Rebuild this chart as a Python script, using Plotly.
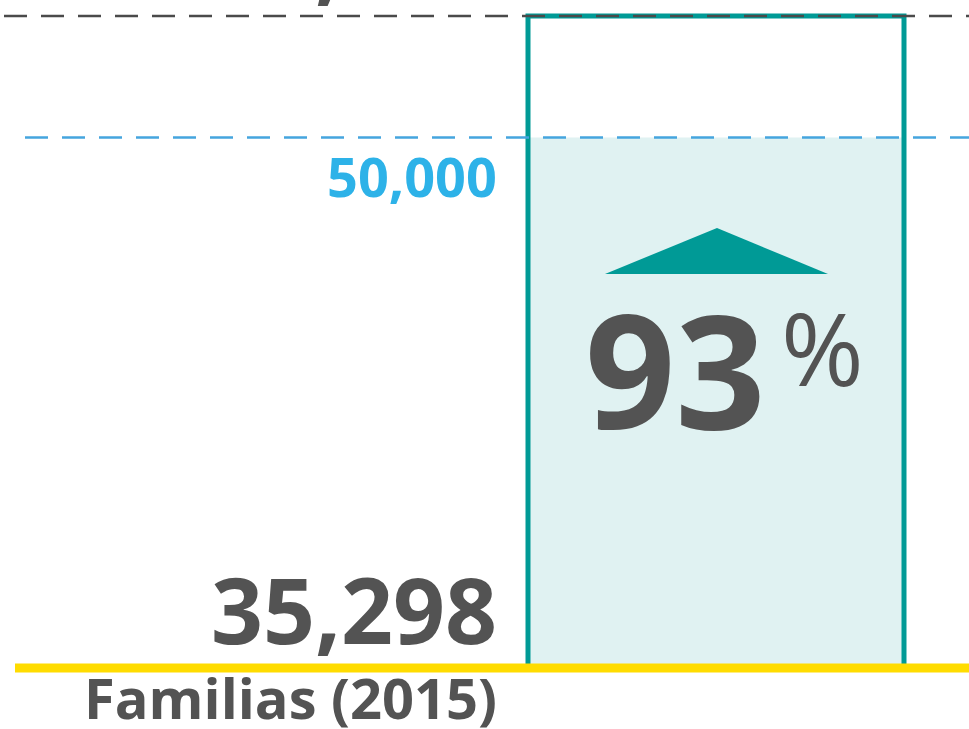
import plotly.graph_objects as go

# ---- data ----
categories = ["Familias (2015)"]
base_families = [35298]          # families in 2015
goal_values = [50000]            # goal line
target_values = [68125]          # target (cut-off label at top)
growth_pct = [93]

base_label = "35,298"
goal_label = "50,000"
target_label = "68,125"

# ---- layout constants ----
W, H = 969, 729
Y_RANGE = [-38238, 70512]
FLOOR = -29139                    # axis value where the yellow baseline sits
X_RANGE = [-1.5234, 0.5383]
BAR_W = 0.8

TEAL = "#009a96"
FILL = "#e0f2f2"
BLUE_LINE = "#45a5de"
BLUE_TEXT = "#2db2e8"
DARK = "#535353"
YELLOW = "#ffdc00"
FONT = "Open Sans"


def px(x):
    return x / W


def py(y):
    return 1 - y / H


fig = go.Figure()

# light filled part up to the goal
fig.add_trace(go.Bar(
    x=[0], y=[goal_values[0] - FLOOR], base=[FLOOR], width=BAR_W,
    marker=dict(color=FILL, line=dict(width=0)),
    hoverinfo="skip", showlegend=False,
))
# outlined bar up to target
fig.add_trace(go.Bar(
    x=[0], y=[target_values[0] - FLOOR], base=[FLOOR], width=BAR_W,
    marker=dict(color="rgba(0,0,0,0)", line=dict(color=TEAL, width=5)),
    hoverinfo="skip", showlegend=False,
))

shapes = [
    # goal dashed line
    dict(type="line", xref="paper", yref="y", x0=px(25), x1=1,
         y0=goal_values[0], y1=goal_values[0],
         line=dict(color=BLUE_LINE, width=2.5, dash="23px,14px")),
    # target dashed line
    dict(type="line", xref="paper", yref="y", x0=px(4), x1=1,
         y0=target_values[0], y1=target_values[0],
         line=dict(color="#4a4a4a", width=2.5, dash="23px,14px")),
    # yellow baseline
    dict(type="line", xref="paper", yref="y", x0=px(15), x1=1,
         y0=FLOOR, y1=FLOOR, line=dict(color=YELLOW, width=9)),
    # up arrow triangle
    dict(type="path", xref="paper", yref="paper",
         path=f"M {px(605)} {py(274)} L {px(717)} {py(228)} L {px(828)} {py(274)} Z",
         fillcolor=TEAL, line=dict(width=0)),
]

annotations = [
    dict(text=f"<b>{target_label}</b>", xref="paper", yref="paper",
         x=px(499), y=py(-41), xanchor="right", yanchor="middle",
         showarrow=False, font=dict(family=FONT, size=91, color=DARK)),
    dict(text=f"<b>{goal_label}</b>", xref="paper", yref="paper",
         x=px(499), y=py(176), xanchor="right", yanchor="middle",
         showarrow=False, font=dict(family=FONT, size=54, color=BLUE_TEXT)),
    dict(text=f"<b>{base_label}</b>", xref="paper", yref="paper",
         x=px(499), y=py(609), xanchor="right", yanchor="middle",
         showarrow=False, font=dict(family=FONT, size=91, color=DARK)),
    dict(text=f"<b>{categories[0]}</b>", xref="paper", yref="paper",
         x=px(499), y=py(697), xanchor="right", yanchor="middle",
         showarrow=False, font=dict(family=FONT, size=56, color=DARK)),
    dict(text=f"<b>{growth_pct[0]}</b>", xref="paper", yref="paper",
         x=px(768), y=py(368), xanchor="right", yanchor="middle",
         showarrow=False, font=dict(family=FONT, size=158, color=DARK)),
    dict(text="%", xref="paper", yref="paper",
         x=px(779), y=py(347), xanchor="left", yanchor="middle",
         showarrow=False, font=dict(family=FONT, size=100, color=DARK)),
]

fig.update_layout(
    width=W, height=H,
    margin=dict(l=0, r=0, t=0, b=0),
    paper_bgcolor="white", plot_bgcolor="rgba(0,0,0,0)",
    barmode="overlay",
    xaxis=dict(range=X_RANGE, visible=False, fixedrange=True),
    yaxis=dict(range=Y_RANGE, visible=False, fixedrange=True),
    shapes=shapes, annotations=annotations,
    showlegend=False,
)

fig.write_html("out.html", config={"displayModeBar": False},
               post_script="document.body.style.margin='0';")
